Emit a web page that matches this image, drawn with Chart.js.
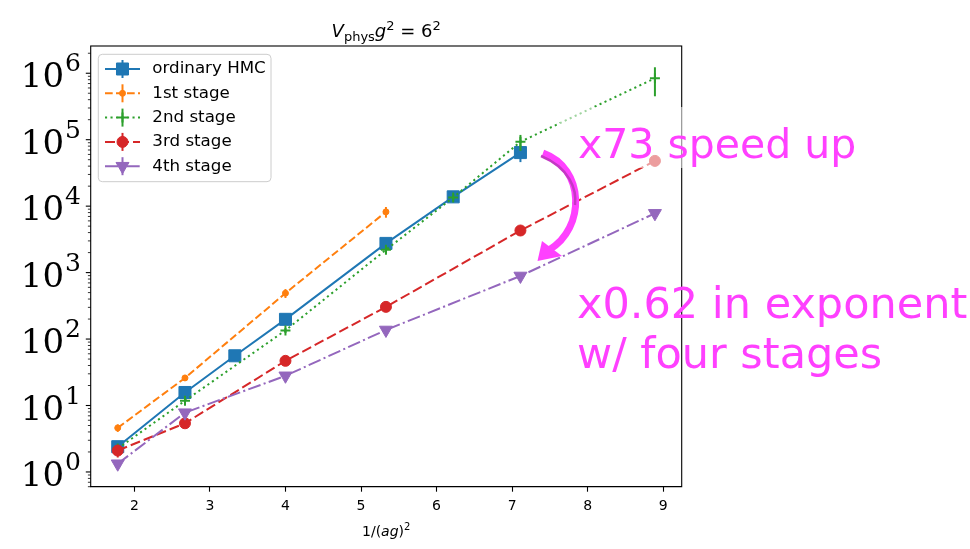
<!DOCTYPE html>
<html>
<head>
<meta charset="utf-8">
<script src="https://cdn.jsdelivr.net/npm/chart.js@4.4.1/dist/chart.umd.min.js"></script>
<style>
  html, body { margin: 0; padding: 0; background: #fff; }
  #wrap { width: 970px; height: 549px; }
</style>
</head>
<body>
<div id="wrap"><canvas id="chart" width="970" height="549"></canvas></div>
<script>
// values (x = 1/(ag)^2, y = cost)
const hmcX = [1.78, 2.67, 3.33, 4.00, 5.33, 6.22, 7.11];
const hmcY = [2.4, 15.7, 56, 198, 2750, 13800, 64000];
const hmcErr = [0.2, 1.2, 4, 15, 250, 1200, 18000];

const stage1X = [1.78, 2.67, 4.00, 5.33];
const stage1Y = [4.6, 26, 490, 8200];
const stage1Err = [0.6, 2.5, 75, 1500];

const stage2X = [1.78, 2.67, 4.00, 5.33, 6.22, 7.11, 8.89];
const stage2Y = [2.25, 11.8, 135, 2200, 13500, 93000, 840000];
const stage2Err = [0.15, 1.0, 12, 250, 1500, 25000, 390000];

const stage3X = [1.78, 2.67, 4.00, 5.33, 7.11, 8.89];
const stage3Y = [2.1, 5.4, 47, 305, 4300, 48000];
const stage3Err = [0.45, 0.4, 3, 20, 300, 4000];

const stage4X = [1.78, 2.67, 4.00, 5.33, 7.11, 8.89];
const stage4Y = [1.33, 7.8, 28, 137, 890, 7800];
const stage4Err = [0.1, 0.5, 2, 8, 60, 600];

const yTickExps = [0, 1, 2, 3, 4, 5, 6];

const blue = '#1f77b4', orange = '#ff7f0e', green = '#2ca02c', red = '#d62728', purple = '#9467bd';
const pink = '#ff40ff';

function toPoints(xs, ys) {
  return xs.map((x, i) => ({ x: x, y: ys[i] }));
}

// vertical error bars under each series' markers
const errorBars = {
  id: 'errorBars',
  beforeDatasetDraw(chart, args) {
    const ds = chart.data.datasets[args.index];
    const xs = chart.scales.x, ys = chart.scales.y;
    const ctx = chart.ctx;
    ctx.save();
    ctx.strokeStyle = ds.borderColor;
    ctx.lineWidth = 2;
    ctx.setLineDash([]);
    ds.data.forEach((p, i) => {
      const e = ds.errors[i];
      const px = xs.getPixelForValue(p.x);
      ctx.beginPath();
      ctx.moveTo(px, ys.getPixelForValue(p.y + e));
      ctx.lineTo(px, ys.getPixelForValue(Math.max(p.y - e, ys.min)));
      ctx.stroke();
    });
    ctx.restore();
  }
};

function drawPieces(ctx, pieces, cx, baseline) {
  let total = 0;
  pieces.forEach(p => { ctx.font = p.font; p.w = ctx.measureText(p.t).width; total += p.w; });
  let x = cx - total / 2;
  ctx.textAlign = 'left';
  ctx.textBaseline = 'alphabetic';
  pieces.forEach(p => {
    ctx.font = p.font;
    ctx.fillText(p.t, x, baseline + (p.dy || 0));
    x += p.w;
  });
}

const decorations = {
  id: 'decorations',
  afterDraw(chart) {
    const ctx = chart.ctx;
    const ca = chart.chartArea;
    const ys = chart.scales.y;
    ctx.save();

    // frame
    ctx.strokeStyle = '#000';
    ctx.lineWidth = 1.1;
    ctx.setLineDash([]);
    ctx.strokeRect(ca.left, ca.top, ca.right - ca.left, ca.bottom - ca.top);

    // log ticks on the left
    for (let e = -1; e <= 7; e++) {
      for (let m = 1; m <= 9; m++) {
        const v = m * Math.pow(10, e);
        if (v < ys.min || v > ys.max) continue;
        const py = ys.getPixelForValue(v);
        ctx.lineWidth = m === 1 ? 1.1 : 0.8;
        ctx.beginPath();
        ctx.moveTo(ca.left, py);
        ctx.lineTo(ca.left - (m === 1 ? 4.9 : 2.8), py);
        ctx.stroke();
      }
    }

    // y tick labels 10^n
    ctx.fillStyle = '#000';
    ctx.textBaseline = 'alphabetic';
    ctx.textAlign = 'left';
    yTickExps.forEach(n => {
      const py = ys.getPixelForValue(Math.pow(10, n));
      ctx.font = '25px "DejaVu Serif"';
      const supW = ctx.measureText(String(n)).width;
      ctx.font = '34px "DejaVu Serif"';
      const mainW = ctx.measureText('10').width;
      const x0 = 80 - supW - mainW;
      ctx.fillText('10', x0, py + 14);
      ctx.font = '25px "DejaVu Serif"';
      ctx.fillText(String(n), x0 + mainW + 1, py - 2);
    });

    // title
    const cx = (ca.left + ca.right) / 2;
    drawPieces(ctx, [
      { t: 'V', font: 'italic 18px "DejaVu Sans"' },
      { t: 'phys', font: '13px "DejaVu Sans"', dy: 4 },
      { t: 'g', font: 'italic 18px "DejaVu Sans"' },
      { t: '2', font: '13px "DejaVu Sans"', dy: -7 },
      { t: ' = 6', font: '18px "DejaVu Sans"' },
      { t: '2', font: '13px "DejaVu Sans"', dy: -7 }
    ], cx, 37);

    // x axis label
    drawPieces(ctx, [
      { t: '1/(', font: '14px "DejaVu Sans"' },
      { t: 'ag', font: 'italic 14px "DejaVu Sans"' },
      { t: ')', font: '14px "DejaVu Sans"' },
      { t: '2', font: '10px "DejaVu Sans"', dy: -6 }
    ], cx, 536);

    // legend
    const lx = 98.3, ly = 54.3, lw = 172.7, lh = 127.4;
    ctx.beginPath();
    ctx.roundRect(lx, ly, lw, lh, 4);
    ctx.fillStyle = 'rgba(255,255,255,0.8)';
    ctx.fill();
    ctx.strokeStyle = '#cccccc';
    ctx.lineWidth = 1;
    ctx.stroke();
    chart.data.datasets.forEach((ds, i) => {
      const ry = ly + 14.7 + i * 24.3;
      ctx.strokeStyle = ds.borderColor;
      ctx.fillStyle = ds.backgroundColor;
      ctx.lineWidth = 2;
      ctx.setLineDash(ds.borderDash);
      ctx.beginPath();
      ctx.moveTo(105, ry);
      ctx.lineTo(140, ry);
      ctx.stroke();
      ctx.setLineDash([]);
      ctx.beginPath();
      ctx.moveTo(122.5, ry - 9);
      ctx.lineTo(122.5, ry + 9);
      ctx.stroke();
      ctx.lineWidth = ds.pointBorderWidth;
      Chart.helpers.drawPoint(ctx, {
        pointStyle: ds.pointStyle, radius: ds.pointRadius,
        rotation: ds.pointRotation || 0, borderWidth: ds.pointBorderWidth
      }, 122.5, ry);
      ctx.fillStyle = '#000';
      ctx.font = '16.7px "DejaVu Sans"';
      ctx.textBaseline = 'middle';
      ctx.fillText(ds.label, 152.3, ry);
    });

    // annotations
    ctx.fillStyle = 'rgba(255,255,255,0.55)';
    ctx.fillRect(560, 107, 320, 61);
    ctx.fillStyle = pink;
    ctx.textBaseline = 'alphabetic';
    ctx.font = '41px "DejaVu Sans"';
    ctx.fillText('x73 speed up', 578, 158);
    ctx.font = '43px "DejaVu Sans"';
    ctx.fillText('x0.62 in exponent', 577, 318);
    ctx.fillText('w/ four stages', 577, 368);

    // curved arrow
    ctx.strokeStyle = pink;
    ctx.lineWidth = 7;
    ctx.beginPath();
    ctx.moveTo(543, 153);
    ctx.bezierCurveTo(585, 168, 586, 228, 549, 250);
    ctx.stroke();
    ctx.strokeStyle = '#c438c4';
    ctx.lineWidth = 2.5;
    ctx.beginPath();
    ctx.moveTo(541, 156);
    ctx.bezierCurveTo(570, 168, 577, 190, 575, 205);
    ctx.stroke();
    ctx.fillStyle = pink;
    ctx.beginPath();
    ctx.moveTo(537.5, 261);
    ctx.lineTo(542, 241);
    ctx.lineTo(562, 256);
    ctx.closePath();
    ctx.fill();

    ctx.restore();
  }
};

new Chart(document.getElementById('chart'), {
  type: 'scatter',
  data: {
    datasets: [
      { label: 'ordinary HMC', data: toPoints(hmcX, hmcY), errors: hmcErr,
        borderColor: blue, backgroundColor: blue, borderDash: [],
        pointStyle: 'rect', pointRadius: 8.5, pointBorderWidth: 1, order: 4 },
      { label: '1st stage', data: toPoints(stage1X, stage1Y), errors: stage1Err,
        borderColor: orange, backgroundColor: orange, borderDash: [7.7, 3.3],
        pointStyle: 'circle', pointRadius: 3, pointBorderWidth: 1, order: 3 },
      { label: '2nd stage', data: toPoints(stage2X, stage2Y), errors: stage2Err,
        borderColor: green, backgroundColor: green, borderDash: [2.1, 3.4],
        pointStyle: 'cross', pointRadius: 5, pointBorderWidth: 2, order: 2 },
      { label: '3rd stage', data: toPoints(stage3X, stage3Y), errors: stage3Err,
        borderColor: red, backgroundColor: red, borderDash: [10, 4],
        pointStyle: 'circle', pointRadius: 5.5, pointBorderWidth: 1, order: 1 },
      { label: '4th stage', data: toPoints(stage4X, stage4Y), errors: stage4Err,
        borderColor: purple, backgroundColor: purple, borderDash: [13, 3.3, 2.1, 3.3],
        pointStyle: 'triangle', pointRotation: 180, pointRadius: 7.5, pointBorderWidth: 1, order: 0 }
    ].map(ds => Object.assign({ showLine: true, borderWidth: 2, tension: 0, pointHoverRadius: ds.pointRadius }, ds))
  },
  options: {
    responsive: false,
    animation: false,
    devicePixelRatio: 1,
    layout: { padding: { left: 90.7, right: 288.3, top: 46, bottom: 0 } },
    scales: {
      x: {
        type: 'linear',
        min: 1.4222,
        max: 9.2444,
        ticks: {
          stepSize: 1,
          includeBounds: false,
          maxRotation: 0,
          color: '#000',
          padding: 6,
          font: { family: 'DejaVu Sans', size: 14 }
        },
        grid: { drawOnChartArea: false, drawTicks: true, tickLength: 5, tickColor: '#000', tickWidth: 1.1 },
        border: { display: true, color: '#000', width: 1 },
        afterFit(s) { s.height = 62.3; }
      },
      y: {
        type: 'logarithmic',
        min: 0.607,
        max: 2.57e6,
        display: false
      }
    },
    plugins: {
      legend: { display: false },
      title: { display: false },
      tooltip: { enabled: false }
    }
  },
  plugins: [errorBars, decorations]
});
</script>
</body>
</html>
